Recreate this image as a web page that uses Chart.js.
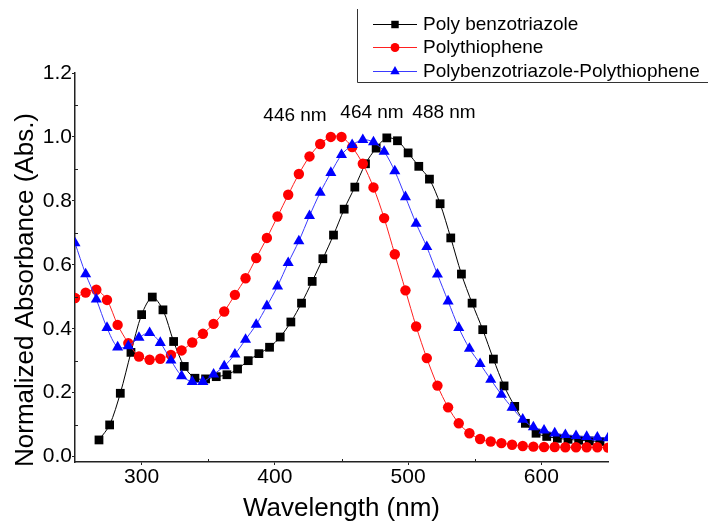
<!DOCTYPE html>
<html>
<head>
<meta charset="utf-8">
<script src="https://cdn.jsdelivr.net/npm/chart.js@4"></script>
<style>
  html, body { margin: 0; padding: 0; background: #fff; }
  #wrap { width: 708px; height: 523px; }
</style>
</head>
<body>
<div id="wrap"><canvas id="absChart" width="708" height="523"></canvas></div>
<script>
// wavelengths (nm)
const waveBT = [268, 276, 284, 292, 300, 308, 316, 324, 332, 340, 348, 356, 364, 372, 380, 388,
  396, 404, 412, 420, 428, 436, 444, 452, 460, 468, 476, 484, 492, 500, 508, 516,
  524, 532, 540, 548, 556, 564, 572, 580, 588, 596, 604, 612, 620, 628, 636, 644];
const waveTH = [250, 258, 266, 274, 282, 290, 298, 306, 314, 322, 330, 338, 346, 354, 362, 370,
  378, 386, 394, 402, 410, 418, 426, 434, 442, 450, 458, 466, 474, 482, 490, 498,
  506, 514, 522, 530, 538, 546, 554, 562, 570, 578, 586, 594, 602, 610, 618, 626,
  634, 642, 650];

// normalized absorbance
const polyBenzotriazole = [0.052, 0.099, 0.198, 0.326, 0.444, 0.499, 0.459, 0.360, 0.282, 0.245, 0.243, 0.250,
  0.256, 0.274, 0.300, 0.322, 0.342, 0.374, 0.421, 0.480, 0.548, 0.619, 0.693, 0.774,
  0.843, 0.916, 0.965, 0.997, 0.988, 0.950, 0.908, 0.868, 0.791, 0.684, 0.571, 0.480,
  0.397, 0.305, 0.221, 0.157, 0.104, 0.073, 0.063, 0.057, 0.054, 0.051, 0.049, 0.047];
const polythiophene = [0.496, 0.513, 0.522, 0.490, 0.412, 0.355, 0.313, 0.303, 0.306, 0.318, 0.332, 0.357,
  0.384, 0.415, 0.454, 0.506, 0.558, 0.621, 0.684, 0.751, 0.819, 0.884, 0.939, 0.978,
  1.000, 1.000, 0.968, 0.916, 0.842, 0.746, 0.633, 0.520, 0.407, 0.308, 0.222, 0.154,
  0.104, 0.073, 0.055, 0.047, 0.042, 0.037, 0.033, 0.031, 0.030, 0.030, 0.029, 0.029,
  0.029, 0.029, 0.028];
const polyBTTH = [0.668, 0.571, 0.492, 0.403, 0.342, 0.346, 0.372, 0.387, 0.356, 0.301, 0.252, 0.234,
  0.234, 0.257, 0.283, 0.320, 0.366, 0.413, 0.471, 0.533, 0.606, 0.674, 0.753, 0.826,
  0.888, 0.944, 0.975, 0.991, 0.984, 0.954, 0.893, 0.812, 0.729, 0.656, 0.570, 0.486,
  0.403, 0.338, 0.290, 0.241, 0.194, 0.153, 0.116, 0.092, 0.082, 0.073, 0.068, 0.065,
  0.062, 0.060, 0.058];

const xTicks = [300, 400, 500, 600];
const yTicks = [0, 0.2, 0.4, 0.6, 0.8, 1.0, 1.2];
const seriesNames = ['Poly benzotriazole', 'Polythiophene', 'Polybenzotriazole-Polythiophene'];
const peakLabels = ['446 nm', '464 nm', '488 nm'];

const FONT = '"Liberation Sans", Arial, sans-serif';

function pts(xs, ys) {
  return xs.map((x, i) => ({ x: x, y: ys[i] }));
}

// titles, minor ticks, legend box and peak labels
const decorations = {
  id: 'decorations',
  afterDraw(chart) {
    const ctx = chart.ctx;
    const xs = chart.scales.x, ys = chart.scales.y;
    const area = chart.chartArea;
    ctx.save();

    // minor ticks pointing inward
    ctx.strokeStyle = '#222';
    ctx.lineWidth = 1;
    [350, 450, 550].forEach(v => {
      const px = Math.round(xs.getPixelForValue(v)) + 0.5;
      ctx.beginPath(); ctx.moveTo(px, area.bottom); ctx.lineTo(px, area.bottom - 3); ctx.stroke();
    });
    [0.1, 0.3, 0.5, 0.7, 0.9, 1.1].forEach(v => {
      const py = Math.round(ys.getPixelForValue(v)) + 0.5;
      ctx.beginPath(); ctx.moveTo(area.left, py); ctx.lineTo(area.left + 3, py); ctx.stroke();
    });

    // axis titles
    ctx.fillStyle = '#000';
    ctx.font = '26px ' + FONT;
    ctx.textAlign = 'center';
    ctx.textBaseline = 'alphabetic';
    ctx.fillText('Wavelength (nm)', (area.left + area.right) / 2, 516);
    ctx.save();
    ctx.translate(33, 290);
    ctx.rotate(-Math.PI / 2);
    ctx.fillText('Normalized Absorbance (Abs.)', 0, 0);
    ctx.restore();

    // peak labels
    ctx.font = '19px ' + FONT;
    ctx.textBaseline = 'middle';
    ctx.fillText(peakLabels[0], 295, 116);
    ctx.fillText(peakLabels[1], 372, 113);
    ctx.fillText(peakLabels[2], 444, 113);

    // legend box
    ctx.strokeStyle = '#333';
    ctx.lineWidth = 1;
    ctx.beginPath();
    ctx.moveTo(357.5, 9);
    ctx.lineTo(357.5, 82.5);
    ctx.lineTo(708, 82.5);
    ctx.stroke();

    const rows = [24, 47, 71];
    chart.data.datasets.forEach((ds, i) => {
      const y = rows[i];
      ctx.strokeStyle = ds.borderColor;
      ctx.lineWidth = 1;
      ctx.beginPath(); ctx.moveTo(373, y + 0.5); ctx.lineTo(417, y + 0.5); ctx.stroke();
      ctx.fillStyle = ds.pointBackgroundColor;
      ctx.strokeStyle = ds.pointBackgroundColor;
      Chart.helpers.drawPoint(ctx, {
        pointStyle: ds.pointStyle, radius: ds.pointRadius * 0.85, rotation: 0, borderWidth: 0
      }, 395, y + 0.5);
      ctx.fillStyle = '#000';
      ctx.font = '19px ' + FONT;
      ctx.textAlign = 'left';
      ctx.textBaseline = 'middle';
      ctx.fillText(ds.label, 423, y + 1);
    });

    ctx.restore();
  }
};

new Chart(document.getElementById('absChart').getContext('2d'), {
  type: 'line',
  data: {
    datasets: [
      {
        label: seriesNames[0],
        data: pts(waveBT, polyBenzotriazole),
        borderColor: '#000000',
        borderWidth: 1,
        pointStyle: 'rect',
        pointRadius: 6.2,
        pointBorderWidth: 0,
        pointBackgroundColor: '#000000',
        tension: 0.3,
        order: 3
      },
      {
        label: seriesNames[1],
        data: pts(waveTH, polythiophene),
        borderColor: '#ff2020',
        borderWidth: 1,
        pointStyle: 'circle',
        pointRadius: 5.2,
        pointBorderWidth: 0,
        pointBackgroundColor: '#ff0000',
        tension: 0.3,
        order: 2
      },
      {
        label: seriesNames[2],
        data: pts(waveTH, polyBTTH),
        borderColor: '#3a3aff',
        borderWidth: 1,
        pointStyle: 'triangle',
        pointRadius: 6.4,
        pointBorderWidth: 0,
        pointBackgroundColor: '#0000ff',
        tension: 0.3,
        order: 1
      }
    ]
  },
  options: {
    responsive: false,
    animation: false,
    events: [],
    layout: { padding: { top: 73, right: 100, left: 0, bottom: 0 } },
    plugins: { legend: { display: false }, tooltip: { enabled: false } },
    scales: {
      x: {
        type: 'linear',
        min: 250,
        max: 650,
        afterBuildTicks: s => { s.ticks = xTicks.map(v => ({ value: v })); },
        afterFit: s => { s.height = 61; },
        grid: { drawOnChartArea: false, tickLength: 3, color: '#222' },
        border: { color: '#222', width: 1.5 },
        ticks: { color: '#000', padding: 0, font: { family: FONT, size: 21 } }
      },
      y: {
        min: -0.017,
        max: 1.2,
        afterBuildTicks: s => { s.ticks = yTicks.map(v => ({ value: v })); },
        afterFit: s => { s.width = 75; },
        grid: { drawOnChartArea: false, tickLength: 3, color: '#222' },
        border: { color: '#222', width: 1.5 },
        ticks: {
          color: '#000', padding: 0, font: { family: FONT, size: 21 },
          callback: v => v.toFixed(1)
        }
      }
    }
  },
  plugins: [decorations]
});
</script>
</body>
</html>
